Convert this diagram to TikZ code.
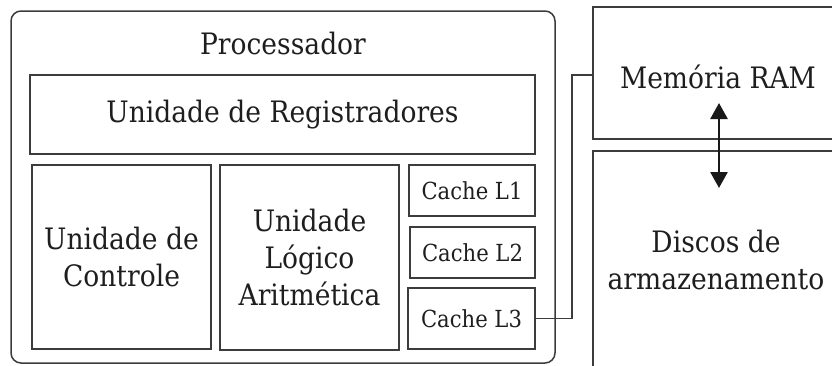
\documentclass[tikz,border=0pt]{standalone}
\usepackage{fontspec}
\setmainfont{DejaVu Serif}[FakeStretch=0.9]
\usetikzlibrary{arrows.meta}
\definecolor{linec}{HTML}{3C3C3C}
\definecolor{textc}{HTML}{1E1E1E}
\tikzset{
  box/.style={draw=linec, line width=1.5pt, inner sep=0pt, text=textc, align=center,
    font=\fontsize{29.5}{37}\selectfont},
  smallbox/.style={box, font=\fontsize{23.5}{26}\selectfont},
  lbl/.style={inner sep=0pt, text=textc, align=center, font=\fontsize{29.5}{37}\selectfont},
  conn/.style={draw=linec, line width=1.5pt},
  arr/.style={draw=black!90, line width=2.6pt, {Triangle[width=17pt,length=16pt]}-{Triangle[width=17pt,length=16pt]}}
}
\begin{document}
\begin{tikzpicture}[x=1pt,y=-1pt]
\useasboundingbox (0,0) rectangle (832,365);
\clip (0,0) rectangle (832,365);
% processor
\node[box, rounded corners=10pt, minimum width=544pt, minimum height=352pt] (proc) at (283,187) {};
\node[lbl, anchor=base] (ptitle) at (283,54) {Processador};
\node[box, minimum width=505pt, minimum height=79pt] (reg) at (282.5,114.5) {Unidade de Registradores};
\node[box, minimum width=179pt, minimum height=184pt] (uc) at (121.5,257) {Unidade de\\Controle};
\node[box, minimum width=179pt, minimum height=185pt] (ula) at (309.5,257.5) {Unidade\\Lógico\\Aritmética};
\node[smallbox, minimum width=126pt, minimum height=51pt] (c1) at (472,190.5) {Cache L1};
\node[smallbox, minimum width=125pt, minimum height=51pt] (c2) at (472.5,252.5) {Cache L2};
\node[smallbox, minimum width=127pt, minimum height=61pt] (c3) at (471.5,318.5) {Cache L3};
% memory
\node[box, minimum width=257pt, minimum height=132pt] (ram) at (721.5,73) {};
\node[lbl, anchor=base] (ramlbl) at (718,88) {Memória RAM};
\node[box, minimum width=257pt, minimum height=229pt] (disk) at (721.5,265.5) {};
\node[lbl] (disklbl) at (716,260) {Discos de\\armazenamento};
% connectors
\coordinate (bend) at (572,75);
\draw[conn] (c3.east) -| (bend) -- (ram.west |- bend);
\coordinate (atop) at (719,103);
\coordinate (abot) at (719,188);
\draw[arr] (atop) -- (abot);
\end{tikzpicture}
\end{document}
